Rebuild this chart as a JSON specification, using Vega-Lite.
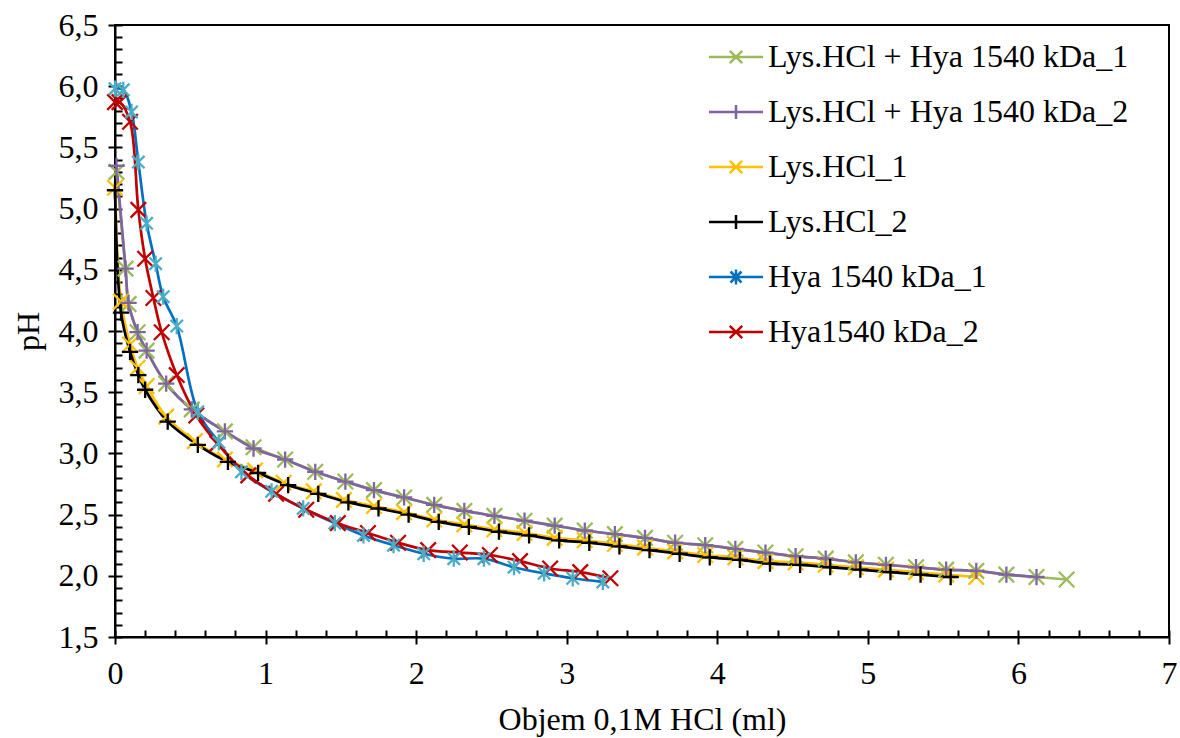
{
  "$schema": "https://vega.github.io/schema/vega-lite/v6.json",
  "width": 1054,
  "height": 612,
  "autosize": "none",
  "padding": {"left": 115, "top": 25, "right": 11, "bottom": 101},
  "background": "white",
  "config": {
    "view": {"stroke": "#000000", "strokeWidth": 2},
    "font": "Liberation Serif",
    "axis": {
      "grid": false,
      "domainColor": "#000000",
      "domainWidth": 2,
      "tickColor": "#000000",
      "tickWidth": 2,
      "labelFont": "Liberation Serif",
      "labelFontSize": 32,
      "labelColor": "#000000",
      "titleFont": "Liberation Serif",
      "titleFontSize": 32,
      "titleFontWeight": "normal",
      "titleColor": "#000000"
    },
    "legend": {
      "orient": "none",
      "legendX": 605,
      "legendY": 16,
      "padding": 0,
      "labelFont": "Liberation Serif",
      "labelFontSize": 32,
      "labelColor": "#000000",
      "labelOffset": 16,
      "labelLimit": 600,
      "symbolSize": 400,
      "symbolStrokeWidth": 2.5,
      "rowPadding": 23
    }
  },
  "data": {
    "values": [
      {"s": "Lys.HCl + Hya 1540 kDa_1", "x": 0.01, "y": 5.30},
      {"s": "Lys.HCl + Hya 1540 kDa_1", "x": 0.07, "y": 4.51},
      {"s": "Lys.HCl + Hya 1540 kDa_1", "x": 0.09, "y": 4.22},
      {"s": "Lys.HCl + Hya 1540 kDa_1", "x": 0.15, "y": 3.99},
      {"s": "Lys.HCl + Hya 1540 kDa_1", "x": 0.21, "y": 3.84},
      {"s": "Lys.HCl + Hya 1540 kDa_1", "x": 0.34, "y": 3.57},
      {"s": "Lys.HCl + Hya 1540 kDa_1", "x": 0.51, "y": 3.36},
      {"s": "Lys.HCl + Hya 1540 kDa_1", "x": 0.73, "y": 3.18},
      {"s": "Lys.HCl + Hya 1540 kDa_1", "x": 0.92, "y": 3.05},
      {"s": "Lys.HCl + Hya 1540 kDa_1", "x": 1.13, "y": 2.95},
      {"s": "Lys.HCl + Hya 1540 kDa_1", "x": 1.33, "y": 2.85},
      {"s": "Lys.HCl + Hya 1540 kDa_1", "x": 1.53, "y": 2.77},
      {"s": "Lys.HCl + Hya 1540 kDa_1", "x": 1.72, "y": 2.70},
      {"s": "Lys.HCl + Hya 1540 kDa_1", "x": 1.92, "y": 2.64},
      {"s": "Lys.HCl + Hya 1540 kDa_1", "x": 2.12, "y": 2.58},
      {"s": "Lys.HCl + Hya 1540 kDa_1", "x": 2.32, "y": 2.53},
      {"s": "Lys.HCl + Hya 1540 kDa_1", "x": 2.52, "y": 2.49},
      {"s": "Lys.HCl + Hya 1540 kDa_1", "x": 2.72, "y": 2.45},
      {"s": "Lys.HCl + Hya 1540 kDa_1", "x": 2.92, "y": 2.41},
      {"s": "Lys.HCl + Hya 1540 kDa_1", "x": 3.12, "y": 2.37},
      {"s": "Lys.HCl + Hya 1540 kDa_1", "x": 3.32, "y": 2.34},
      {"s": "Lys.HCl + Hya 1540 kDa_1", "x": 3.52, "y": 2.31},
      {"s": "Lys.HCl + Hya 1540 kDa_1", "x": 3.72, "y": 2.27},
      {"s": "Lys.HCl + Hya 1540 kDa_1", "x": 3.92, "y": 2.25},
      {"s": "Lys.HCl + Hya 1540 kDa_1", "x": 4.12, "y": 2.22},
      {"s": "Lys.HCl + Hya 1540 kDa_1", "x": 4.32, "y": 2.19},
      {"s": "Lys.HCl + Hya 1540 kDa_1", "x": 4.52, "y": 2.16},
      {"s": "Lys.HCl + Hya 1540 kDa_1", "x": 4.72, "y": 2.14},
      {"s": "Lys.HCl + Hya 1540 kDa_1", "x": 4.92, "y": 2.11},
      {"s": "Lys.HCl + Hya 1540 kDa_1", "x": 5.12, "y": 2.09},
      {"s": "Lys.HCl + Hya 1540 kDa_1", "x": 5.32, "y": 2.07},
      {"s": "Lys.HCl + Hya 1540 kDa_1", "x": 5.52, "y": 2.05},
      {"s": "Lys.HCl + Hya 1540 kDa_1", "x": 5.72, "y": 2.04},
      {"s": "Lys.HCl + Hya 1540 kDa_1", "x": 5.92, "y": 2.01},
      {"s": "Lys.HCl + Hya 1540 kDa_1", "x": 6.12, "y": 1.99},
      {"s": "Lys.HCl + Hya 1540 kDa_1", "x": 6.32, "y": 1.97},

      {"s": "Lys.HCl + Hya 1540 kDa_2", "x": 0.01, "y": 5.35},
      {"s": "Lys.HCl + Hya 1540 kDa_2", "x": 0.07, "y": 4.51},
      {"s": "Lys.HCl + Hya 1540 kDa_2", "x": 0.09, "y": 4.23},
      {"s": "Lys.HCl + Hya 1540 kDa_2", "x": 0.15, "y": 3.99},
      {"s": "Lys.HCl + Hya 1540 kDa_2", "x": 0.21, "y": 3.84},
      {"s": "Lys.HCl + Hya 1540 kDa_2", "x": 0.34, "y": 3.57},
      {"s": "Lys.HCl + Hya 1540 kDa_2", "x": 0.51, "y": 3.36},
      {"s": "Lys.HCl + Hya 1540 kDa_2", "x": 0.73, "y": 3.18},
      {"s": "Lys.HCl + Hya 1540 kDa_2", "x": 0.92, "y": 3.04},
      {"s": "Lys.HCl + Hya 1540 kDa_2", "x": 1.13, "y": 2.95},
      {"s": "Lys.HCl + Hya 1540 kDa_2", "x": 1.33, "y": 2.85},
      {"s": "Lys.HCl + Hya 1540 kDa_2", "x": 1.53, "y": 2.77},
      {"s": "Lys.HCl + Hya 1540 kDa_2", "x": 1.72, "y": 2.70},
      {"s": "Lys.HCl + Hya 1540 kDa_2", "x": 1.92, "y": 2.64},
      {"s": "Lys.HCl + Hya 1540 kDa_2", "x": 2.12, "y": 2.58},
      {"s": "Lys.HCl + Hya 1540 kDa_2", "x": 2.32, "y": 2.53},
      {"s": "Lys.HCl + Hya 1540 kDa_2", "x": 2.52, "y": 2.49},
      {"s": "Lys.HCl + Hya 1540 kDa_2", "x": 2.72, "y": 2.45},
      {"s": "Lys.HCl + Hya 1540 kDa_2", "x": 2.92, "y": 2.41},
      {"s": "Lys.HCl + Hya 1540 kDa_2", "x": 3.12, "y": 2.37},
      {"s": "Lys.HCl + Hya 1540 kDa_2", "x": 3.32, "y": 2.34},
      {"s": "Lys.HCl + Hya 1540 kDa_2", "x": 3.52, "y": 2.31},
      {"s": "Lys.HCl + Hya 1540 kDa_2", "x": 3.72, "y": 2.27},
      {"s": "Lys.HCl + Hya 1540 kDa_2", "x": 3.92, "y": 2.25},
      {"s": "Lys.HCl + Hya 1540 kDa_2", "x": 4.12, "y": 2.22},
      {"s": "Lys.HCl + Hya 1540 kDa_2", "x": 4.32, "y": 2.19},
      {"s": "Lys.HCl + Hya 1540 kDa_2", "x": 4.52, "y": 2.16},
      {"s": "Lys.HCl + Hya 1540 kDa_2", "x": 4.72, "y": 2.14},
      {"s": "Lys.HCl + Hya 1540 kDa_2", "x": 4.92, "y": 2.11},
      {"s": "Lys.HCl + Hya 1540 kDa_2", "x": 5.12, "y": 2.09},
      {"s": "Lys.HCl + Hya 1540 kDa_2", "x": 5.32, "y": 2.07},
      {"s": "Lys.HCl + Hya 1540 kDa_2", "x": 5.52, "y": 2.05},
      {"s": "Lys.HCl + Hya 1540 kDa_2", "x": 5.72, "y": 2.04},
      {"s": "Lys.HCl + Hya 1540 kDa_2", "x": 5.92, "y": 2.01},
      {"s": "Lys.HCl + Hya 1540 kDa_2", "x": 6.12, "y": 1.99},

      {"s": "Lys.HCl_1", "x": 0.0, "y": 5.17},
      {"s": "Lys.HCl_1", "x": 0.04, "y": 4.24},
      {"s": "Lys.HCl_1", "x": 0.10, "y": 3.89},
      {"s": "Lys.HCl_1", "x": 0.15, "y": 3.70},
      {"s": "Lys.HCl_1", "x": 0.21, "y": 3.55},
      {"s": "Lys.HCl_1", "x": 0.34, "y": 3.30},
      {"s": "Lys.HCl_1", "x": 0.53, "y": 3.10},
      {"s": "Lys.HCl_1", "x": 0.73, "y": 2.95},
      {"s": "Lys.HCl_1", "x": 0.93, "y": 2.86},
      {"s": "Lys.HCl_1", "x": 1.12, "y": 2.76},
      {"s": "Lys.HCl_1", "x": 1.32, "y": 2.69},
      {"s": "Lys.HCl_1", "x": 1.52, "y": 2.62},
      {"s": "Lys.HCl_1", "x": 1.72, "y": 2.57},
      {"s": "Lys.HCl_1", "x": 1.92, "y": 2.52},
      {"s": "Lys.HCl_1", "x": 2.12, "y": 2.46},
      {"s": "Lys.HCl_1", "x": 2.32, "y": 2.42},
      {"s": "Lys.HCl_1", "x": 2.52, "y": 2.38},
      {"s": "Lys.HCl_1", "x": 2.72, "y": 2.35},
      {"s": "Lys.HCl_1", "x": 2.92, "y": 2.31},
      {"s": "Lys.HCl_1", "x": 3.12, "y": 2.29},
      {"s": "Lys.HCl_1", "x": 3.32, "y": 2.26},
      {"s": "Lys.HCl_1", "x": 3.52, "y": 2.23},
      {"s": "Lys.HCl_1", "x": 3.72, "y": 2.20},
      {"s": "Lys.HCl_1", "x": 3.92, "y": 2.17},
      {"s": "Lys.HCl_1", "x": 4.12, "y": 2.15},
      {"s": "Lys.HCl_1", "x": 4.32, "y": 2.12},
      {"s": "Lys.HCl_1", "x": 4.52, "y": 2.11},
      {"s": "Lys.HCl_1", "x": 4.72, "y": 2.09},
      {"s": "Lys.HCl_1", "x": 4.92, "y": 2.07},
      {"s": "Lys.HCl_1", "x": 5.12, "y": 2.05},
      {"s": "Lys.HCl_1", "x": 5.32, "y": 2.03},
      {"s": "Lys.HCl_1", "x": 5.52, "y": 2.01},
      {"s": "Lys.HCl_1", "x": 5.72, "y": 1.99},

      {"s": "Lys.HCl_2", "x": 0.0, "y": 5.15},
      {"s": "Lys.HCl_2", "x": 0.04, "y": 4.15},
      {"s": "Lys.HCl_2", "x": 0.10, "y": 3.83},
      {"s": "Lys.HCl_2", "x": 0.155, "y": 3.64},
      {"s": "Lys.HCl_2", "x": 0.20, "y": 3.52},
      {"s": "Lys.HCl_2", "x": 0.35, "y": 3.26},
      {"s": "Lys.HCl_2", "x": 0.55, "y": 3.07},
      {"s": "Lys.HCl_2", "x": 0.75, "y": 2.93},
      {"s": "Lys.HCl_2", "x": 0.95, "y": 2.84},
      {"s": "Lys.HCl_2", "x": 1.15, "y": 2.74},
      {"s": "Lys.HCl_2", "x": 1.35, "y": 2.67},
      {"s": "Lys.HCl_2", "x": 1.55, "y": 2.60},
      {"s": "Lys.HCl_2", "x": 1.75, "y": 2.55},
      {"s": "Lys.HCl_2", "x": 1.95, "y": 2.50},
      {"s": "Lys.HCl_2", "x": 2.15, "y": 2.44},
      {"s": "Lys.HCl_2", "x": 2.35, "y": 2.40},
      {"s": "Lys.HCl_2", "x": 2.55, "y": 2.36},
      {"s": "Lys.HCl_2", "x": 2.75, "y": 2.33},
      {"s": "Lys.HCl_2", "x": 2.95, "y": 2.29},
      {"s": "Lys.HCl_2", "x": 3.15, "y": 2.27},
      {"s": "Lys.HCl_2", "x": 3.35, "y": 2.24},
      {"s": "Lys.HCl_2", "x": 3.55, "y": 2.21},
      {"s": "Lys.HCl_2", "x": 3.75, "y": 2.18},
      {"s": "Lys.HCl_2", "x": 3.95, "y": 2.15},
      {"s": "Lys.HCl_2", "x": 4.15, "y": 2.13},
      {"s": "Lys.HCl_2", "x": 4.35, "y": 2.10},
      {"s": "Lys.HCl_2", "x": 4.55, "y": 2.09},
      {"s": "Lys.HCl_2", "x": 4.75, "y": 2.07},
      {"s": "Lys.HCl_2", "x": 4.95, "y": 2.05},
      {"s": "Lys.HCl_2", "x": 5.15, "y": 2.03},
      {"s": "Lys.HCl_2", "x": 5.35, "y": 2.01},
      {"s": "Lys.HCl_2", "x": 5.55, "y": 1.99},

      {"s": "Hya 1540 kDa_1", "x": 0.0, "y": 5.98},
      {"s": "Hya 1540 kDa_1", "x": 0.055, "y": 5.97},
      {"s": "Hya 1540 kDa_1", "x": 0.11, "y": 5.79},
      {"s": "Hya 1540 kDa_1", "x": 0.155, "y": 5.38},
      {"s": "Hya 1540 kDa_1", "x": 0.21, "y": 4.88},
      {"s": "Hya 1540 kDa_1", "x": 0.27, "y": 4.55},
      {"s": "Hya 1540 kDa_1", "x": 0.32, "y": 4.28},
      {"s": "Hya 1540 kDa_1", "x": 0.41, "y": 4.04},
      {"s": "Hya 1540 kDa_1", "x": 0.55, "y": 3.34},
      {"s": "Hya 1540 kDa_1", "x": 0.69, "y": 3.09},
      {"s": "Hya 1540 kDa_1", "x": 0.84, "y": 2.85},
      {"s": "Hya 1540 kDa_1", "x": 1.04, "y": 2.69},
      {"s": "Hya 1540 kDa_1", "x": 1.25, "y": 2.55},
      {"s": "Hya 1540 kDa_1", "x": 1.46, "y": 2.43},
      {"s": "Hya 1540 kDa_1", "x": 1.65, "y": 2.33},
      {"s": "Hya 1540 kDa_1", "x": 1.85, "y": 2.25},
      {"s": "Hya 1540 kDa_1", "x": 2.05, "y": 2.18},
      {"s": "Hya 1540 kDa_1", "x": 2.25, "y": 2.14},
      {"s": "Hya 1540 kDa_1", "x": 2.45, "y": 2.14},
      {"s": "Hya 1540 kDa_1", "x": 2.65, "y": 2.07},
      {"s": "Hya 1540 kDa_1", "x": 2.85, "y": 2.02},
      {"s": "Hya 1540 kDa_1", "x": 3.04, "y": 1.98},
      {"s": "Hya 1540 kDa_1", "x": 3.24, "y": 1.95},

      {"s": "Hya1540 kDa_2", "x": 0.0, "y": 5.87},
      {"s": "Hya1540 kDa_2", "x": 0.03, "y": 5.87},
      {"s": "Hya1540 kDa_2", "x": 0.10, "y": 5.71},
      {"s": "Hya1540 kDa_2", "x": 0.155, "y": 4.99},
      {"s": "Hya1540 kDa_2", "x": 0.20, "y": 4.59},
      {"s": "Hya1540 kDa_2", "x": 0.255, "y": 4.27},
      {"s": "Hya1540 kDa_2", "x": 0.31, "y": 3.99},
      {"s": "Hya1540 kDa_2", "x": 0.41, "y": 3.64},
      {"s": "Hya1540 kDa_2", "x": 0.54, "y": 3.31},
      {"s": "Hya1540 kDa_2", "x": 0.68, "y": 3.08},
      {"s": "Hya1540 kDa_2", "x": 0.885, "y": 2.82},
      {"s": "Hya1540 kDa_2", "x": 1.07, "y": 2.67},
      {"s": "Hya1540 kDa_2", "x": 1.27, "y": 2.54},
      {"s": "Hya1540 kDa_2", "x": 1.48, "y": 2.43},
      {"s": "Hya1540 kDa_2", "x": 1.68, "y": 2.35},
      {"s": "Hya1540 kDa_2", "x": 1.88, "y": 2.27},
      {"s": "Hya1540 kDa_2", "x": 2.08, "y": 2.21},
      {"s": "Hya1540 kDa_2", "x": 2.29, "y": 2.19},
      {"s": "Hya1540 kDa_2", "x": 2.49, "y": 2.17},
      {"s": "Hya1540 kDa_2", "x": 2.69, "y": 2.12},
      {"s": "Hya1540 kDa_2", "x": 2.89, "y": 2.06},
      {"s": "Hya1540 kDa_2", "x": 3.09, "y": 2.03},
      {"s": "Hya1540 kDa_2", "x": 3.29, "y": 1.98}
    ]
  },
  "layer": [
    {
      "mark": {"type": "line", "interpolate": "catmull-rom", "strokeWidth": 2.7},
      "encoding": {
        "x": {
          "field": "x", "type": "quantitative",
          "scale": {"domain": [0, 7], "nice": false, "zero": false},
          "axis": {
            "values": [0, 1, 2, 3, 4, 5, 6, 7],
            "tickSize": 7,
            "labelPadding": 14,
            "labelFlush": false,
            "title": "Objem 0,1M HCl (ml)",
            "titleBaseline": "alphabetic",
            "titleY": 92
          }
        },
        "y": {
          "field": "y", "type": "quantitative",
          "scale": {"domain": [1.5, 6.5], "nice": false, "zero": false},
          "axis": {
            "values": [1.5, 2, 2.5, 3, 3.5, 4, 4.5, 5, 5.5, 6, 6.5],
            "tickSize": 7,
            "labelPadding": 10,
            "labelFlush": false,
            "labelExpr": "replace(format(datum.value, '.1f'), '.', ',')",
            "title": "pH",
            "titleX": -87,
            "titleBaseline": "middle"
          }
        },
        "color": {
          "field": "s", "type": "nominal",
          "scale": {
            "domain": ["Lys.HCl + Hya 1540 kDa_1", "Lys.HCl + Hya 1540 kDa_2", "Lys.HCl_1", "Lys.HCl_2", "Hya 1540 kDa_1", "Hya1540 kDa_2"],
            "range": ["#9BBB59", "#8064A2", "#FFC000", "#000000", "#0070C0", "#C00000"]
          },
          "legend": {
            "title": null,
            "encode": {
              "symbols": {
                "update": {
                  "shape": {"signal": "(datum.value === 'Lys.HCl + Hya 1540 kDa_2' || datum.value === 'Lys.HCl_2') ? 'M-2.7,0L2.7,0M0,-0.7L0,0.7' : (datum.value === 'Hya 1540 kDa_1' ? 'M-2.7,0L2.7,0M-0.55,-0.55L0.55,0.55M-0.55,0.55L0.55,-0.55M0,-0.75L0,0.75' : 'M-2.7,0L2.7,0M-0.62,-0.62L0.62,0.62M-0.62,0.62L0.62,-0.62')"},
                  "strokeWidth": {"value": 2.5},
                  "fill": {"value": "transparent"}
                }
              }
            }
          }
        }
      }
    },
    {
      "transform": [{"filter": {"field": "s", "oneOf": ["Lys.HCl + Hya 1540 kDa_1", "Lys.HCl_1", "Hya1540 kDa_2"]}}],
      "mark": {"type": "point", "filled": false, "strokeWidth": 2.3, "size": 240, "opacity": 1, "shape": "M-1,-1L1,1M-1,1L1,-1"},
      "encoding": {
        "x": {
          "field": "x", "type": "quantitative",
          "axis": {
            "orient": "bottom",
            "values": [0, 0.2, 0.4, 0.6, 0.8, 1, 1.2, 1.4, 1.6, 1.8, 2, 2.2, 2.4, 2.6, 2.8, 3, 3.2, 3.4, 3.6, 3.8, 4, 4.2, 4.4, 4.6, 4.8, 5, 5.2, 5.4, 5.6, 5.8, 6, 6.2, 6.4, 6.6, 6.8, 7],
            "tickSize": -7,
            "labels": false,
            "domain": false,
            "title": null
          }
        },
        "y": {
          "field": "y", "type": "quantitative",
          "axis": {
            "orient": "left",
            "values": [1.5, 1.6, 1.7, 1.8, 1.9, 2, 2.1, 2.2, 2.3, 2.4, 2.5, 2.6, 2.7, 2.8, 2.9, 3, 3.1, 3.2, 3.3, 3.4, 3.5, 3.6, 3.7, 3.8, 3.9, 4, 4.1, 4.2, 4.3, 4.4, 4.5, 4.6, 4.7, 4.8, 4.9, 5, 5.1, 5.2, 5.3, 5.4, 5.5, 5.6, 5.7, 5.8, 5.9, 6, 6.1, 6.2, 6.3, 6.4, 6.5],
            "tickSize": -7,
            "labels": false,
            "domain": false,
            "title": null
          }
        },
        "stroke": {
          "field": "s", "type": "nominal",
          "scale": {
            "domain": ["Lys.HCl + Hya 1540 kDa_1", "Lys.HCl + Hya 1540 kDa_2", "Lys.HCl_1", "Lys.HCl_2", "Hya 1540 kDa_1", "Hya1540 kDa_2"],
            "range": ["#9BBB59", "#8064A2", "#FFC000", "#000000", "#4BACC6", "#C00000"]
          },
          "legend": null
        }
      }
    },
    {
      "transform": [{"filter": {"field": "s", "oneOf": ["Lys.HCl + Hya 1540 kDa_2", "Lys.HCl_2"]}}],
      "mark": {"type": "point", "filled": false, "strokeWidth": 2.3, "size": 240, "opacity": 1, "shape": "M-1.05,0L1.05,0M0,-1.05L0,1.05"},
      "encoding": {
        "x": {"field": "x", "type": "quantitative", "axis": null},
        "y": {"field": "y", "type": "quantitative", "axis": null},
        "stroke": {"field": "s", "type": "nominal", "legend": null}
      }
    },
    {
      "transform": [{"filter": {"field": "s", "oneOf": ["Hya 1540 kDa_1"]}}],
      "mark": {"type": "point", "filled": false, "strokeWidth": 2.3, "size": 240, "opacity": 1, "shape": "M-0.8,-0.8L0.8,0.8M-0.8,0.8L0.8,-0.8M0,-1.05L0,1.05"},
      "encoding": {
        "x": {"field": "x", "type": "quantitative", "axis": null},
        "y": {"field": "y", "type": "quantitative", "axis": null},
        "stroke": {"field": "s", "type": "nominal", "legend": null}
      }
    }
  ],
  "resolve": {"axis": {"x": "independent", "y": "independent"}}
}
